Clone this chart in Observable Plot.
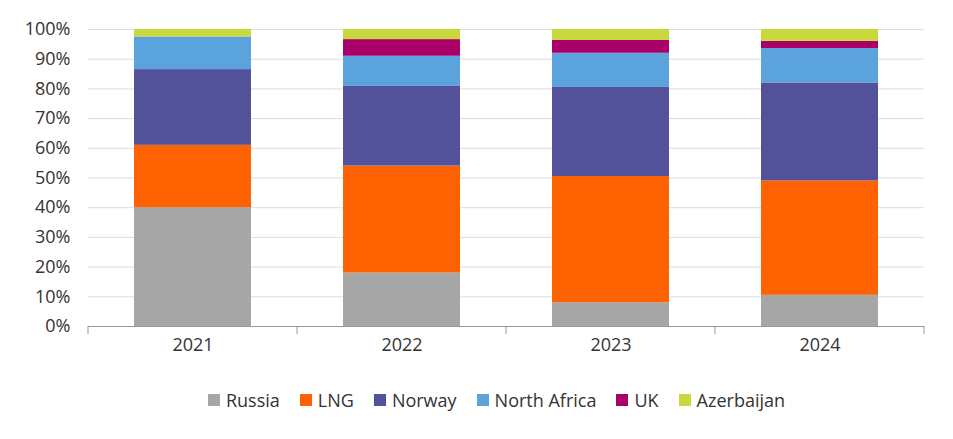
<!DOCTYPE html>
<html><head><meta charset="utf-8">
<script src="https://cdn.jsdelivr.net/npm/d3@7"></script>
<script src="https://cdn.jsdelivr.net/npm/@observablehq/plot@0.6"></script>
<style>
body{margin:0;background:#fff;font-family:"Open Sans",sans-serif;}
#legend{display:flex;justify-content:center;gap:20px;font-size:18px;color:#333;margin-top:28px;margin-left:40px}
#legend span{display:flex;align-items:center;gap:6px}
#legend i{display:inline-block;width:12px;height:12px}
</style></head><body>
<div id="chart"></div>
<div id="legend"></div>
<script>
const years = ["2021","2022","2023","2024"];
const sources = ["Russia","LNG","Norway","North Africa","UK","Azerbaijan"];
const colors = ["#a6a6a6","#ff6200","#525199","#5ba3dc","#aa0069","#c9d83c"];
const russia = [40,18,8,10.5];
const lng = [21,36,42.5,38.5];
const norway = [25.5,27,30,33];
const northAfrica = [11,10,11.5,11.6];
const uk = [0,5.6,4.3,2.4];
const azerbaijan = [2.5,3.4,3.7,4];
const series = [russia,lng,norway,northAfrica,uk,azerbaijan];
const data = [];
years.forEach((y,i)=>sources.forEach((s,j)=>data.push({year:y,source:s,value:series[j][i]/100})));
const chart = Plot.plot({
  width:953,height:360,marginLeft:88,marginRight:29,marginTop:29,marginBottom:34,
  style:{fontSize:"18px",fontFamily:"Open Sans, sans-serif",color:"#333"},
  x:{domain:years,label:null,paddingInner:0.44,paddingOuter:0.22,tickSize:0,tickPadding:12},
  y:{domain:[0,1],ticks:d3.range(0,1.01,0.1),tickFormat:d=>Math.round(d*100)+"%",label:null,grid:true,tickSize:0,tickPadding:18},
  color:{domain:sources,range:colors},
  marks:[
    Plot.barY(data,{x:"year",y:"value",fill:"source",order:sources}),
    Plot.ruleY([0],{stroke:"#999"})
  ]
});
d3.select(chart).selectAll("[aria-label='y-grid'] line").attr("stroke","#ddd").attr("stroke-opacity",1);
const x = chart.scale("x");
const sx = chart.scale("y");
const step = (x.range[1]-x.range[0]) / (years.length);
const base = x.range[0];
const y0 = sx.apply(0);
const g = d3.select(chart).append("g").attr("stroke","#999");
for(let i=0;i<=years.length;i++){
  const xx = base + i*step;
  g.append("line").attr("x1",xx).attr("x2",xx).attr("y1",y0).attr("y2",y0+8);
}
document.getElementById("chart").appendChild(chart);
const lg = d3.select("#legend");
sources.forEach((s,i)=>{const sp=lg.append("span");sp.append("i").style("background",colors[i]);sp.append("text").text(s);});
</script></body></html>
